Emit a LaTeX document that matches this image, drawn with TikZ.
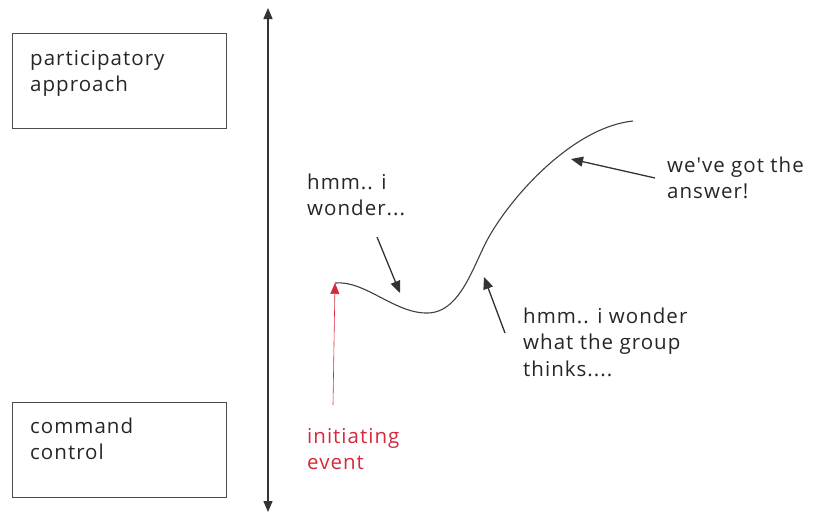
\documentclass[tikz,border=0pt]{standalone}
\usepackage{fontspec}
\setmainfont{Open Sans}
\newfontfamily\handfont[LetterSpace=5]{Open Sans}
\usepackage{tikz}
\usepackage{xcolor}
\usetikzlibrary{arrows.meta}
\definecolor{eventred}{RGB}{215,40,60}
\tikzset{
    approach-box/.style = {draw=black!70, line width=1.2pt, rectangle, minimum width=214pt, minimum height=95pt, anchor=north west},
    approach-text/.style = {anchor=base west, align=left, font=\handfont\fontsize{20.5}{26.5}\selectfont, inner sep=0pt, text=black!85},
    note-arrow/.style = {-{Triangle[length=12pt,width=10pt]}, line width=1.3pt, black!80},
}

\begin{document}
\begin{tikzpicture}[x=1pt, y=-1pt]
\useasboundingbox (0,0) rectangle (828,514);
% boxes for the two styles
\node [approach-box] (top-box) at (12,33) {};
\node [approach-text] (top-text) at (30,91.5) {participatory\\approach};
\node [approach-box] (bottom-box) at (12,402) {};
\node [approach-text] (bottom-text) at (30,459.5) {command\\control};
% the scale between them
\coordinate (scale-top) at (268,8);
\coordinate (scale-bottom) at (268,512);
\draw [{Triangle[length=11pt,width=9pt]}-{Triangle[length=11pt,width=9pt]}, line width=1.4pt, black!80] (scale-top) -- (scale-bottom);
% the path of thinking
\coordinate (start) at (335,283);
\coordinate (dip) at (428,313);
\coordinate (rise) at (490,235);
\coordinate (peak) at (633,121);
\draw [line width=1.1pt, black!75] (start) .. controls (365,280) and (395,314) .. (dip)
    .. controls (462,312) and (474,262) .. (rise)
    .. controls (515,192) and (575,127) .. (peak);
% initiating event
\coordinate (event-foot) at (333,405);
\draw [-{Triangle[length=11pt,width=9pt]}, eventred, line width=0.6pt] (event-foot) -- (start);
\node [approach-text, text=eventred] (event) at (307,469.5) {initiating\\event};
% notes
\node [approach-text] (wonder) at (307,215.5) {hmm.. i\\wonder...};
\coordinate (wonder-from) at (377,237);
\coordinate (wonder-to) at (400,293);
\draw [note-arrow] (wonder-from) -- (wonder-to);
\node [approach-text] (group) at (523,376) {hmm.. i wonder\\what the group\\thinks....};
\coordinate (group-from) at (505,333);
\coordinate (group-to) at (484,277);
\draw [note-arrow] (group-from) -- (group-to);
\node [approach-text] (answer) at (667,198.5) {we've got the\\answer!};
\coordinate (answer-from) at (655,178);
\coordinate (answer-to) at (571,159);
\draw [note-arrow] (answer-from) -- (answer-to);
\end{tikzpicture}
\end{document}
